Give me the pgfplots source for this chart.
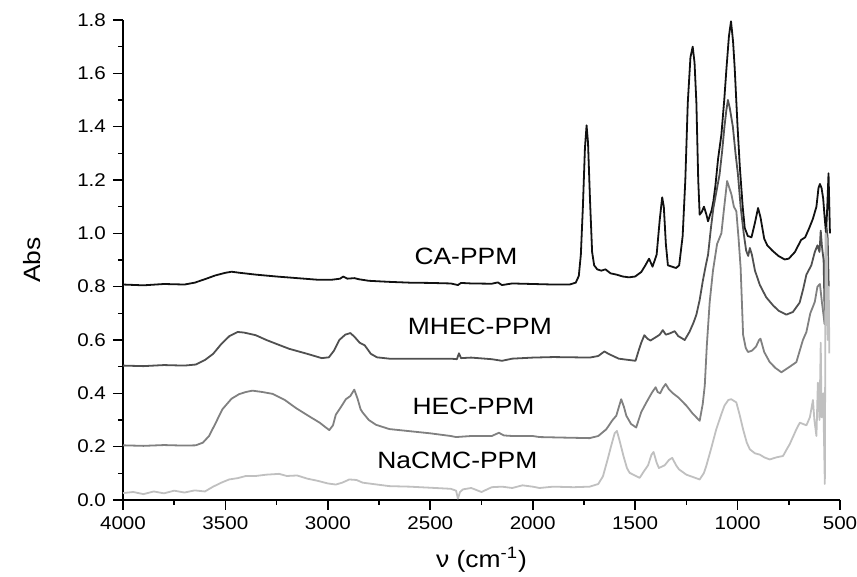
\documentclass[border=0pt]{standalone}
\usepackage{fontspec}
\setmainfont{Liberation Sans}[FakeStretch=1.12]
\usepackage{pgfplots}
\pgfplotsset{compat=1.18}

\definecolor{caC}{HTML}{111111}
\definecolor{mhecC}{HTML}{505050}
\definecolor{hecC}{HTML}{808080}
\definecolor{cmcC}{HTML}{C0C0C0}

\begin{document}
\begin{tikzpicture}
\begin{axis}[
  scale only axis,
  width=358.5pt, height=240pt,
  x dir=reverse,
  xmin=500, xmax=4000, ymin=0, ymax=1.8,
  axis x line*=bottom, axis y line*=left,
  xtick={500,1000,1500,2000,2500,3000,3500,4000},
  ytick={0,0.2,0.4,0.6,0.8,1.0,1.2,1.4,1.6,1.8},
  xticklabel style={/pgf/number format/.cd, 1000 sep={}},
  yticklabel style={/pgf/number format/.cd, fixed, fixed zerofill, precision=1},
  minor tick num=1,
  tick align=outside,
  major tick length=5pt, minor tick length=2.5pt,
  tick style={black, line width=0.8pt},
  axis line style={black, line width=0.9pt},
  /pgf/number format/assume math mode=true,
  tick label style={font=\fontsize{9.2}{11}\selectfont},
  xlabel={ν (cm\textsuperscript{-1})},
  ylabel={Abs},
  every axis x label/.style={at={(axis description cs:0.5,0)}, anchor=center, yshift=-30pt, font=\fontsize{11.8}{14}\selectfont},
  every axis y label/.style={at={(axis description cs:-0.127,0.5)}, rotate=90, anchor=center, font=\fontsize{11.8}{14}\selectfont},
  every axis plot/.append style={line width=0.9pt, line join=round},
  clip=false,
]

% CA-PPM
\addplot[caC] coordinates {
(4000,0.808) (3900,0.805) (3800,0.810) (3700,0.808) (3650,0.815) (3600,0.828)
(3550,0.842) (3500,0.852) (3470,0.856) (3430,0.852) (3350,0.845) (3250,0.838)
(3150,0.832) (3050,0.826) (2980,0.826) (2940,0.830) (2925,0.838) (2905,0.830)
(2870,0.832) (2850,0.828) (2800,0.822) (2700,0.818) (2600,0.815) (2500,0.814)
(2400,0.812) (2365,0.806) (2350,0.814) (2300,0.812) (2200,0.811) (2170,0.816)
(2150,0.806) (2100,0.812) (2000,0.810) (1900,0.808) (1820,0.808) (1790,0.815)
(1775,0.84) (1765,0.92) (1755,1.10) (1745,1.32) (1737,1.405) (1730,1.34)
(1720,1.12) (1710,0.93) (1700,0.88) (1685,0.865) (1665,0.86) (1645,0.865)
(1620,0.85) (1590,0.845) (1560,0.838) (1530,0.835) (1500,0.838) (1470,0.855)
(1450,0.88) (1432,0.905) (1415,0.875) (1395,0.92) (1380,1.05) (1368,1.135)
(1360,1.10) (1350,0.96) (1340,0.88) (1320,0.875) (1300,0.87) (1285,0.88)
(1268,0.99) (1255,1.20) (1243,1.49) (1230,1.66) (1219,1.70) (1210,1.64)
(1201,1.49) (1192,1.20) (1185,1.07) (1175,1.08) (1164,1.10) (1152,1.07)
(1144,1.045) (1134,1.07) (1127,1.085) (1118,1.12) (1108,1.18) (1095,1.28)
(1079,1.37) (1065,1.50) (1054,1.62) (1042,1.74) (1032,1.795) (1022,1.72)
(1014,1.62) (1000,1.40) (989,1.25) (975,1.10) (965,1.02) (950,0.99)
(932,0.985) (915,1.04) (900,1.095) (888,1.06) (870,0.98) (855,0.955)
(830,0.935) (800,0.915) (770,0.902) (750,0.905) (720,0.93) (690,0.975)
(670,0.985) (650,1.02) (632,1.055) (615,1.10) (605,1.17) (598,1.185)
(590,1.17) (582,1.13) (575,1.06) (568,1.00) (562,1.10) (556,1.225)
(552,1.10) (549,1.00)
};

% MHEC-PPM
\addplot[mhecC] coordinates {
(4000,0.504) (3900,0.502) (3800,0.506) (3700,0.504) (3645,0.508) (3600,0.525)
(3560,0.548) (3520,0.585) (3480,0.615) (3440,0.630) (3410,0.628) (3352,0.618)
(3300,0.600) (3250,0.585) (3189,0.567) (3100,0.548) (3030,0.532) (2995,0.535)
(2970,0.560) (2944,0.600) (2915,0.620) (2890,0.626) (2870,0.612) (2845,0.590)
(2820,0.580) (2790,0.548) (2760,0.535) (2700,0.530) (2600,0.530) (2500,0.530)
(2400,0.530) (2370,0.528) (2360,0.550) (2350,0.532) (2300,0.534) (2200,0.528)
(2150,0.522) (2100,0.530) (2000,0.534) (1900,0.536) (1800,0.535) (1722,0.534)
(1680,0.540) (1650,0.557) (1630,0.548) (1580,0.530) (1530,0.525) (1498,0.522)
(1485,0.555) (1470,0.590) (1455,0.618) (1440,0.605) (1425,0.598) (1400,0.610)
(1380,0.620) (1365,0.637) (1350,0.620) (1330,0.625) (1307,0.633) (1290,0.615)
(1258,0.600) (1235,0.630) (1215,0.665) (1201,0.695) (1185,0.75) (1170,0.82)
(1155,0.88) (1144,0.92) (1130,1.02) (1118,1.095) (1100,1.17) (1088,1.22)
(1075,1.31) (1064,1.40) (1055,1.46) (1047,1.50) (1038,1.47) (1023,1.40)
(1010,1.30) (998,1.22) (985,1.10) (970,1.00) (958,0.935) (948,0.915)
(940,0.945) (930,0.92) (915,0.86) (891,0.806) (860,0.76) (827,0.73)
(800,0.71) (762,0.695) (730,0.705) (697,0.74) (680,0.79) (664,0.845)
(640,0.88) (623,0.93) (610,0.955) (600,0.93) (594,1.01) (588,0.95)
(580,0.90) (574,0.66) (570,0.90) (565,1.02) (560,0.98) (555,0.80)
};

% HEC-PPM
\addplot[hecC] coordinates {
(4000,0.205) (3900,0.203) (3800,0.206) (3700,0.204) (3645,0.205) (3610,0.215)
(3580,0.240) (3550,0.285) (3515,0.340) (3470,0.380) (3433,0.397) (3400,0.405)
(3368,0.410) (3320,0.405) (3270,0.398) (3210,0.375) (3156,0.345) (3100,0.318)
(3040,0.290) (2993,0.262) (2975,0.280) (2961,0.320) (2935,0.350) (2912,0.378)
(2890,0.390) (2871,0.414) (2855,0.380) (2840,0.340) (2830,0.328) (2800,0.300)
(2765,0.282) (2700,0.266) (2600,0.258) (2500,0.250) (2400,0.240) (2374,0.236)
(2300,0.240) (2200,0.240) (2165,0.252) (2140,0.242) (2100,0.240) (2000,0.240)
(1967,0.236) (1850,0.234) (1722,0.232) (1680,0.240) (1641,0.265) (1610,0.300)
(1592,0.316) (1568,0.378) (1555,0.350) (1543,0.316) (1520,0.285) (1495,0.272)
(1470,0.330) (1445,0.366) (1420,0.400) (1400,0.423) (1390,0.405) (1378,0.400)
(1365,0.420) (1351,0.435) (1335,0.415) (1315,0.400) (1290,0.385) (1250,0.354)
(1220,0.325) (1185,0.297) (1170,0.36) (1160,0.43) (1150,0.58) (1136,0.743)
(1120,0.86) (1100,0.96) (1079,1.00) (1065,1.10) (1051,1.196) (1040,1.17)
(1030,1.146) (1018,1.10) (1006,1.083) (995,0.98) (985,0.87) (973,0.62)
(960,0.57) (949,0.555) (930,0.560) (910,0.575) (895,0.600) (888,0.605)
(870,0.555) (843,0.517) (815,0.495) (786,0.479) (745,0.500) (713,0.517)
(681,0.60) (664,0.63) (645,0.70) (632,0.725) (623,0.743) (610,0.80)
(598,0.81) (588,0.74) (575,0.66) (565,0.80) (560,0.70)
};

% NaCMC-PPM
\addplot[cmcC] coordinates {
(4000,0.026) (3950,0.030) (3900,0.022) (3850,0.032) (3800,0.025) (3750,0.035)
(3700,0.028) (3650,0.036) (3600,0.032) (3560,0.050) (3520,0.065) (3482,0.077)
(3440,0.082) (3400,0.090) (3352,0.090) (3300,0.095) (3238,0.098) (3200,0.090)
(3150,0.092) (3100,0.080) (3050,0.072) (3000,0.062) (2961,0.058) (2930,0.065)
(2895,0.077) (2860,0.075) (2830,0.065) (2780,0.060) (2700,0.052) (2600,0.050)
(2500,0.046) (2400,0.042) (2374,0.035) (2365,0.005) (2355,0.030) (2340,0.040)
(2300,0.045) (2250,0.030) (2200,0.048) (2150,0.050) (2100,0.045) (2050,0.055)
(2000,0.050) (1967,0.045) (1900,0.050) (1800,0.048) (1722,0.050) (1680,0.060)
(1657,0.089) (1635,0.150) (1617,0.203) (1600,0.250) (1589,0.259) (1575,0.220)
(1557,0.165) (1540,0.120) (1527,0.102) (1478,0.083) (1455,0.110) (1437,0.130)
(1420,0.170) (1410,0.180) (1395,0.140) (1384,0.120) (1356,0.130) (1335,0.150)
(1319,0.158) (1300,0.130) (1286,0.115) (1250,0.095) (1185,0.077) (1165,0.100)
(1153,0.127) (1130,0.190) (1104,0.265) (1080,0.320) (1064,0.354) (1045,0.375)
(1031,0.378) (1006,0.366) (990,0.320) (973,0.265) (955,0.215) (940,0.190)
(915,0.175) (891,0.170) (870,0.160) (843,0.152) (810,0.160) (778,0.165)
(760,0.190) (745,0.210) (713,0.265) (696,0.290) (664,0.280) (647,0.310)
(632,0.375) (625,0.300) (615,0.240) (608,0.440) (600,0.30) (594,0.59)
(590,0.31) (582,0.40) (574,0.06) (570,1.00) (565,0.98) (560,0.60)
(555,0.80) (552,0.55)
};

\begin{scope}[font=\fontsize{11.8}{14}\selectfont]
\node at (axis cs:2326,0.915) {CA-PPM};
\node at (axis cs:2258,0.650) {MHEC-PPM};
\node at (axis cs:2289,0.350) {HEC-PPM};
\node at (axis cs:2368,0.150) {NaCMC-PPM};
\end{scope}

\coordinate (bl) at (axis description cs:0,0);
\coordinate (tr) at (axis description cs:1,1);
\end{axis}
\pgfresetboundingbox
\path ([shift={(-61.5pt,-38.5pt)}]bl) rectangle ([shift={(8.5pt,10pt)}]tr);
\end{tikzpicture}
\end{document}
